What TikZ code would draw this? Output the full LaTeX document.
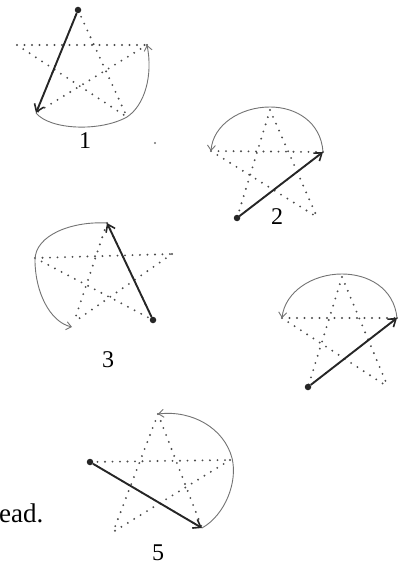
\documentclass[tikz,border=0pt]{standalone}
\usepackage{fontspec}
\setmainfont{Liberation Serif}
\usetikzlibrary{arrows.meta}
\tikzset{
  dotline/.style={draw=black!70, line width=2.1pt, line cap=round, dash pattern=on 0pt off 7.5pt},
  thickarrow/.style={draw=black!85, line width=1.9pt, -{Straight Barb[length=7pt,width=10pt,line width=1.6pt]}},
  thinarc/.style={draw=black!55, line width=0.9pt, -{Straight Barb[length=5pt,width=8pt,line width=0.9pt]}},
  startdot/.style={circle, fill=black!85, inner sep=0pt, minimum size=6.5pt},
  lbl/.style={font=\fontsize{24}{24}\selectfont, inner sep=0pt},
  speck/.style={circle, fill=black!55, inner sep=0pt, minimum size=2.2pt}
}
\newcommand\drawpentagram[1]{%
  \draw[dotline] (#1T) -- (#1BL) (#1T) -- (#1BR) (#1L) -- (#1R) (#1L) -- (#1BR) (#1R) -- (#1BL);}
\begin{document}
\begin{tikzpicture}[x=1pt,y=-1pt]
\useasboundingbox (0,0) rectangle (402,567);
% ---------- star 1
\coordinate (aT) at (78,10);
\coordinate (aL) at (17,45);
\coordinate (aR) at (147,45);
\coordinate (aBL) at (36,113);
\coordinate (aBR) at (127,117);
\drawpentagram{a}
\node[startdot] (aS) at (aT) {};
\draw[thickarrow] (aS) -- (aBL);
\draw[thinarc] (aBL) .. controls (50,130) and (100,132) .. (aBR) .. controls (145,105) and (153,75) .. (aR);
\node[lbl] (n1) at (85,141) {1};
\node[speck] (sp1) at (155,143) {};
% ---------- star 2
\coordinate (bT) at (270,110);
\coordinate (bL) at (211,151);
\coordinate (bR) at (323,152);
\coordinate (bBL) at (237,218);
\coordinate (bBR) at (317,217);
\drawpentagram{b}
\node[startdot] (bS) at (bBL) {};
\draw[thickarrow] (bS) -- (bR);
\draw[thinarc] (bR) .. controls (321,122) and (296,107) .. (270,107) .. controls (240,107) and (213,125) .. (bL);
\node[lbl] (n2) at (277,217) {2};
% ---------- star 3
\coordinate (cT) at (107,223);
\coordinate (cL) at (35,258);
\coordinate (cR) at (172,254);
\coordinate (cBL) at (74,322);
\coordinate (cBR) at (153,320);
\drawpentagram{c}
\node[startdot] (cS) at (cBR) {};
\draw[thickarrow] (cS) -- (cT);
\draw[thinarc] (cT) .. controls (72,221) and (35,235) .. (35,260) .. controls (35,292) and (50,322) .. (72,327);
\node[lbl] (n3) at (108,360) {3};
% ---------- star 4
\coordinate (dT) at (342,277);
\coordinate (dL) at (282,318);
\coordinate (dR) at (397,318);
\coordinate (dBL) at (308,387);
\coordinate (dBR) at (388,387);
\drawpentagram{d}
\node[startdot] (dS) at (dBL) {};
\draw[thickarrow] (dS) -- (dR);
\draw[thinarc] (dR) .. controls (394,288) and (368,274) .. (342,274) .. controls (312,274) and (285,292) .. (dL);
% ---------- star 5
\coordinate (eT) at (158,414);
\coordinate (eL) at (90,462);
\coordinate (eR) at (230,460);
\coordinate (eBL) at (113,532);
\coordinate (eBR) at (202,528);
\drawpentagram{e}
\node[startdot] (eS) at (eL) {};
\draw[thickarrow] (eS) -- (eBR);
\draw[thinarc] (eBR) .. controls (225,515) and (238,482) .. (232,458) .. controls (224,428) and (192,410) .. (eT);
\node[lbl] (n5) at (158,553) {5};
\node[lbl, font=\fontsize{27}{27}\selectfont, anchor=base west] (txt) at (-1,522) {ead.};
\end{tikzpicture}
\end{document}
